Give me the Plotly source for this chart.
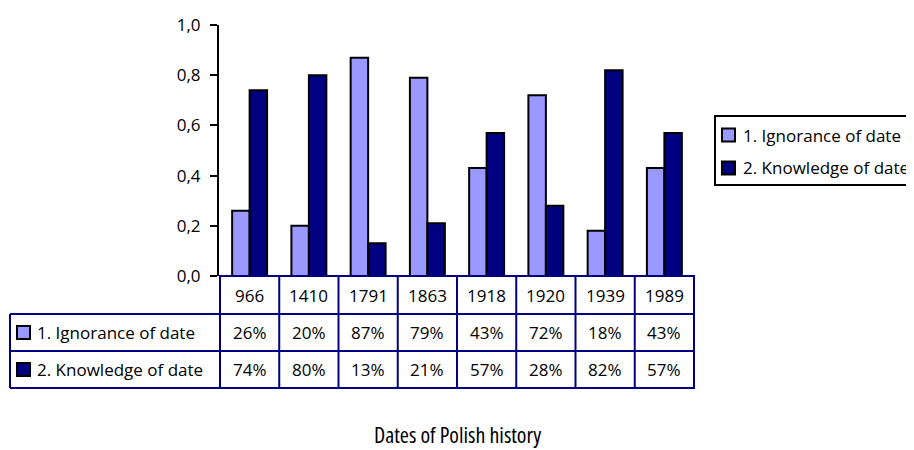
import plotly.graph_objects as go

dates = ["966", "1410", "1791", "1863", "1918", "1920", "1939", "1989"]
ignorance = [0.26, 0.20, 0.87, 0.79, 0.43, 0.72, 0.18, 0.43]
knowledge = [0.74, 0.80, 0.13, 0.21, 0.57, 0.28, 0.82, 0.57]
series_names = ["1. Ignorance of date", "2. Knowledge of date"]
series_colors = ["#9999FF", "#000080"]
y_ticks = [0.0, 0.2, 0.4, 0.6, 0.8, 1.0]
x_title = "Dates of Polish history"

W, H = 914, 450
OFF = 8  # default page body margin
L, R, T, B = 219, 695, 25, 276  # plot area in window pixels
PW, PH = R - L, B - T
FONT = "Open Sans"
NAVY = "#000080"


def px_x(px):
    return (px - L) / PW


def px_y(py):
    return (B - py) / PH


fig = go.Figure()
for name, vals, col in zip(series_names, [ignorance, knowledge], series_colors):
    fig.add_trace(go.Bar(
        x=dates, y=vals, name=name,
        marker=dict(color=col, line=dict(color="black", width=2)),
        showlegend=False,
    ))

shapes = []
annotations = []
row_y = [276, 314, 351, 388]
line = dict(color=NAVY, width=2)
shapes.append(dict(type="line", xref="paper", yref="paper", x0=0, x1=1,
                   y0=px_y(row_y[0]), y1=px_y(row_y[0]), line=line))
for py in row_y[1:]:
    shapes.append(dict(type="line", xref="paper", yref="paper", x0=px_x(10), x1=1,
                       y0=px_y(py), y1=px_y(py), line=line))
for i in range(len(dates) + 1):
    shapes.append(dict(type="line", xref="x", yref="paper", x0=i - 0.5, x1=i - 0.5,
                       y0=px_y(row_y[0]), y1=px_y(row_y[3]), line=line))
shapes.append(dict(type="line", xref="paper", yref="paper", x0=px_x(10), x1=px_x(10),
                   y0=px_y(row_y[1]), y1=px_y(row_y[3]), line=line))

tfont = dict(family=FONT, size=17, color="black")
lfont = dict(family=FONT, size=17, color="black")
row_centers = [(row_y[k] + row_y[k + 1]) / 2 for k in range(3)]
for i, d in enumerate(dates):
    annotations.append(dict(x=i, y=px_y(row_centers[0]), xref="x", yref="paper",
                            text=d, showarrow=False, font=tfont,
                            xanchor="center", yanchor="middle"))
for r, vals in enumerate([ignorance, knowledge]):
    for i, v in enumerate(vals):
        annotations.append(dict(x=i, y=px_y(row_centers[r + 1]), xref="x", yref="paper",
                                text=f"{round(v * 100)}%", showarrow=False, font=tfont,
                                xanchor="center", yanchor="middle"))
    cy = row_centers[r + 1]
    shapes.append(dict(type="rect", xref="paper", yref="paper",
                       x0=px_x(17), x1=px_x(30), y0=px_y(cy - 6.5), y1=px_y(cy + 6.5),
                       fillcolor=series_colors[r], line=dict(color="black", width=2)))
    annotations.append(dict(x=px_x(35), y=px_y(cy), xref="paper", yref="paper",
                            text=series_names[r], showarrow=False, font=lfont,
                            xanchor="left", yanchor="middle"))

# legend box (drawn manually)
shapes.append(dict(type="rect", xref="paper", yref="paper",
                   x0=px_x(715), x1=px_x(930), y0=px_y(116), y1=px_y(185),
                   fillcolor="white", line=dict(color="black", width=2)))
for r, cy in enumerate([135, 168]):
    shapes.append(dict(type="rect", xref="paper", yref="paper",
                       x0=px_x(722), x1=px_x(735), y0=px_y(cy - 6.5), y1=px_y(cy + 6.5),
                       fillcolor=series_colors[r], line=dict(color="black", width=2)))
    annotations.append(dict(x=px_x(741), y=px_y(cy), xref="paper", yref="paper",
                            text=series_names[r], showarrow=False, font=lfont,
                            xanchor="left", yanchor="middle"))

annotations.append(dict(x=0.5, y=px_y(434), xref="paper", yref="paper",
                        text=f'<span style="font-stretch:condensed">{x_title}</span>',
                        showarrow=False, xanchor="center", yanchor="middle",
                        font=dict(family="Open Sans", size=22, color="black")))

fig.update_layout(
    width=W - OFF, height=H - OFF,
    margin=dict(l=L - OFF, r=(W - OFF) - (R - OFF), t=T - OFF, b=(H - OFF) - (B - OFF),
                autoexpand=False),
    paper_bgcolor="white", plot_bgcolor="white",
    separators=", ",
    barmode="group", bargap=0.41, bargroupgap=0,
    shapes=shapes, annotations=annotations,
    font=dict(family=FONT, size=16, color="black"),
    showlegend=False,
)
fig.update_xaxes(type="category", showticklabels=False, showline=False, ticks="",
                 showgrid=False, zeroline=False)
fig.update_yaxes(range=[0, 1], tickvals=y_ticks, tickformat=".1f", showline=True,
                 linecolor="black", linewidth=2, ticks="outside", ticklen=7,
                 tickcolor="black", tickwidth=2, showgrid=False, zeroline=False,
                 ticklabelstandoff=6,
                 tickfont=dict(family=FONT, size=17, color="black"))

fig.write_html("out.html")
